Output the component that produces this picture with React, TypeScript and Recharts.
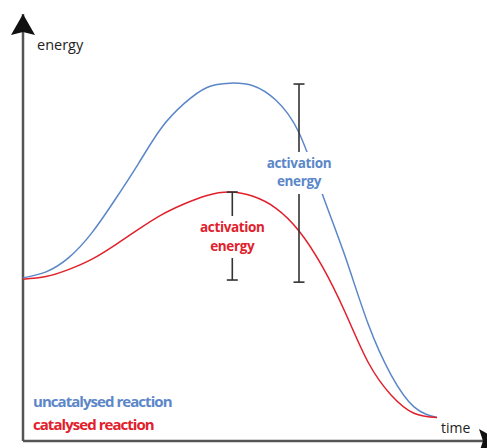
import React from 'react';
import {
    LineChart,
    Line,
    XAxis,
    YAxis,
    ReferenceLine,
    ReferenceDot,
    Legend,
    Label,
} from 'recharts';

// time steps along the reaction
const times = [0, 5, 10, 15, 20, 25, 30, 35, 40, 45, 50, 55, 60, 65, 70, 75, 80, 85, 90];
const uncatalysed = [38.2, 39.6, 43, 48.8, 56.5, 64.8, 73.2, 79, 82.8, 83.8, 83.2, 79.8, 72.2, 58, 43.3, 27.5, 15.5, 8, 5.5];
const catalysed = [37.9, 38.5, 40.2, 42.6, 45.9, 49.5, 52.9, 55.5, 57.5, 58.3, 57.3, 54.5, 49.2, 41, 30.2, 18.5, 10.8, 6.5, 5.5];

// activation energy markers: [uncatalysed, catalysed]
const barTime = [60, 45.5];
const barTop = [83.6, 58.3];
const barBottom = [37.2, 37.7];
const barLabelEnergy = [63, 48];
const barLabelLines = ['activation', 'energy'];
const seriesNames = ['uncatalysed reaction', 'catalysed reaction'];

const BLUE = '#5b87c9';
const RED = '#e2202b';
const AXIS = '#555';
const FONT = '"Open Sans", sans-serif';

const data = times.map((t, i) => ({ t, uncatalysed: uncatalysed[i], catalysed: catalysed[i] }));

const CappedBar = (props: any) => {
    const { x1, y1, x2, y2 } = props;
    const cap = 5.5;
    return (
        <g stroke="#333" strokeWidth={1.6}>
            <line x1={x1} y1={y1} x2={x2} y2={y2} />
            <line x1={x1 - cap} y1={y1} x2={x1 + cap} y2={y1} />
            <line x1={x2 - cap} y1={y2} x2={x2 + cap} y2={y2} />
        </g>
    );
};

const makeLabel = (color: string) => (props: any) => {
    const { cx, cy } = props;
    const textProps = {
        textAnchor: 'middle' as const,
        fill: color,
        fontFamily: FONT,
        fontWeight: 700,
        fontSize: 13.5,
        letterSpacing: -0.35,
    };
    return (
        <g>
            <rect x={cx - 36} y={cy - 20} width={72} height={42} fill="#fff" />
            <text x={cx} y={cy - 4} {...textProps}>
                {barLabelLines[0]}
            </text>
            <text x={cx} y={cy + 14.5} {...textProps}>
                {barLabelLines[1]}
            </text>
        </g>
    );
};

const UpArrow = (props: any) => {
    const { cx, cy } = props;
    return (
        <path
            d={`M${cx},${cy} L${cx + 12},${cy + 21} L${cx},${cy + 18} L${cx - 12},${cy + 21} Z`}
            fill="#111"
        />
    );
};

const RightArrow = (props: any) => {
    const { cx, cy } = props;
    return (
        <path
            d={`M${cx + 17},${cy} L${cx - 4},${cy + 12} L${cx},${cy} L${cx - 4},${cy - 12} Z`}
            fill="#111"
        />
    );
};

const LegendContent = () => (
    <div style={{ fontFamily: FONT, fontWeight: 700, fontSize: 15, letterSpacing: -0.95, lineHeight: '23px' }}>
        <div style={{ color: BLUE }}>{seriesNames[0]}</div>
        <div style={{ color: RED }}>{seriesNames[1]}</div>
    </div>
);

const App: React.FC = () => {
    return (
        <div style={{ position: 'absolute', left: 0, top: 0, width: 487, height: 448 }}>
            <LineChart
                width={487}
                height={448}
                data={data}
                margin={{ top: 14, right: 4, bottom: 7, left: 23 }}>
                <XAxis type="number" dataKey="t" domain={[0, 100]} hide />
                <YAxis type="number" domain={[0, 100]} hide />
                <ReferenceLine x={0} stroke={AXIS} strokeWidth={2.5} ifOverflow="visible">
                    <Label
                        content={(p: any) => (
                            <text
                                x={p.viewBox.x + 14}
                                y={p.viewBox.y + 36}
                                fontFamily={FONT}
                                fontSize={14.5}
                                fill="#222">
                                energy
                            </text>
                        )}
                    />
                </ReferenceLine>
                <ReferenceLine y={0} stroke={AXIS} strokeWidth={2.5} ifOverflow="visible">
                    <Label
                        content={(p: any) => (
                            <text
                                x={p.viewBox.x + p.viewBox.width - 42}
                                y={p.viewBox.y - 8}
                                fontFamily={FONT}
                                fontSize={14}
                                fill="#222">
                                time
                            </text>
                        )}
                    />
                </ReferenceLine>
                <Line
                    dataKey="uncatalysed"
                    name={seriesNames[0]}
                    type="natural"
                    stroke={BLUE}
                    strokeWidth={1.5}
                    dot={false}
                    isAnimationActive={false}
                />
                <Line
                    dataKey="catalysed"
                    name={seriesNames[1]}
                    type="natural"
                    stroke={RED}
                    strokeWidth={1.5}
                    dot={false}
                    isAnimationActive={false}
                />
                {barTime.map((t, i) => (
                    <ReferenceLine
                        key={`bar-${i}`}
                        segment={[
                            { x: t, y: barTop[i] },
                            { x: t, y: barBottom[i] },
                        ]}
                        shape={CappedBar}
                        ifOverflow="visible"
                    />
                ))}
                {barTime.map((t, i) => (
                    <ReferenceDot
                        key={`lbl-${i}`}
                        x={t}
                        y={barLabelEnergy[i]}
                        shape={makeLabel(i === 0 ? BLUE : RED)}
                        ifOverflow="visible"
                    />
                ))}
                <ReferenceDot x={0} y={100} shape={UpArrow} ifOverflow="visible" />
                <ReferenceDot x={100} y={0} shape={RightArrow} ifOverflow="visible" />
                <Legend
                    layout="horizontal"
                    verticalAlign="middle"
                    align="center"
                    content={LegendContent}
                    wrapperStyle={{ left: 33, top: 390, width: 200 }}
                />
            </LineChart>
        </div>
    );
};

export default App;
